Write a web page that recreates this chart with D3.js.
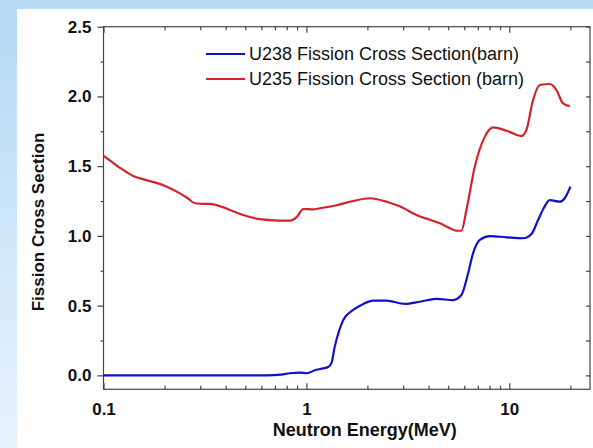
<!DOCTYPE html>
<html>
<head>
<meta charset="utf-8">
<script src="https://cdn.jsdelivr.net/npm/d3@7"></script>
<style>
  html, body { margin: 0; padding: 0; background: #fff; }
  svg { display: block; }
  text { font-family: "Liberation Sans", Arial, sans-serif; fill: #111; }
</style>
</head>
<body>
<svg id="chart" width="593" height="448"></svg>
<script>
// Neutron energy (MeV) and fission cross sections (barn)
const u238Energy = [0.1, 0.3, 0.637, 0.75, 0.829, 0.929, 1.0, 1.12, 1.21, 1.28, 1.33, 1.38, 1.45, 1.52, 1.7, 1.9, 2.13, 2.48, 3.06, 3.62, 4.38, 5.29, 5.81, 6.27, 6.63, 7.16, 8.02, 9.69, 11.7, 12.87, 13.87, 14.8, 15.83, 17.74, 18.77, 20.02];
const u238Sigma  = [0.0, 0.0, 0.0, 0.005, 0.015, 0.02, 0.015, 0.04, 0.05, 0.06, 0.09, 0.206, 0.32, 0.397, 0.469, 0.51, 0.536, 0.536, 0.512, 0.528, 0.548, 0.54, 0.576, 0.732, 0.875, 0.971, 0.999, 0.99, 0.983, 1.014, 1.114, 1.2, 1.257, 1.245, 1.27, 1.353];

const u235Energy = [0.1, 0.11, 0.12, 0.14, 0.163, 0.2, 0.238, 0.26, 0.282, 0.31, 0.335, 0.38, 0.42, 0.488, 0.59, 0.74, 0.83, 0.9, 0.964, 1.08, 1.165, 1.41, 1.7, 2.055, 2.484, 2.9, 3.49, 4.55, 5.2, 5.49, 5.81, 6.15, 6.76, 7.57, 8.32, 9.69, 11.48, 12.15, 13.1, 14.13, 15.83, 17.08, 18.41, 19.86];
const u235Sigma  = [1.575, 1.53, 1.49, 1.43, 1.40, 1.36, 1.305, 1.27, 1.234, 1.23, 1.229, 1.21, 1.186, 1.15, 1.12, 1.11, 1.109, 1.138, 1.193, 1.19, 1.198, 1.22, 1.25, 1.27, 1.245, 1.21, 1.15, 1.09, 1.05, 1.037, 1.037, 1.186, 1.496, 1.71, 1.778, 1.754, 1.716, 1.76, 1.974, 2.082, 2.089, 2.046, 1.95, 1.931];

const seriesNames  = ["U238 Fission Cross Section(barn)", "U235 Fission Cross Section (barn)"];
const seriesColors = ["#1010c8", "#d3222a"];

const xMajorTicks = [0.1, 1, 10];
const xTickLabels = ["0.1", "1", "10"];
const yMajorTicks = [0.0, 0.5, 1.0, 1.5, 2.0, 2.5];
const yTickLabels = ["0.0", "0.5", "1.0", "1.5", "2.0", "2.5"];
const yMinorTicks = [0.25, 0.75, 1.25, 1.75, 2.25];
const xMinorTicks = [0.2, 0.3, 0.4, 0.5, 0.6, 0.7, 0.8, 0.9, 2, 3, 4, 5, 6, 7, 8, 9, 20];

const xTitle = "Neutron Energy(MeV)";
const yTitle = "Fission Cross Section";

const W = 593, H = 448;
const plot = { left: 103.5, right: 590, top: 26.7, bottom: 389.3 };

const svg = d3.select("#chart");

// Backdrop: pale blue band on top, vertical gradient strip on the left, white panel
const defs = svg.append("defs");
const grad = defs.append("linearGradient").attr("id", "sideGrad")
  .attr("x1", 0).attr("y1", 0).attr("x2", 0).attr("y2", 1);
grad.append("stop").attr("offset", "0%").attr("stop-color", "#b3d9f5");
grad.append("stop").attr("offset", "100%").attr("stop-color", "#e8f3fc");

svg.append("rect").attr("x", 0).attr("y", 0).attr("width", W).attr("height", H).attr("fill", "url(#sideGrad)");
svg.append("rect").attr("x", 0).attr("y", 0).attr("width", W).attr("height", 9).attr("fill", "#b8dcf6");
svg.append("rect").attr("x", 17).attr("y", 9).attr("width", W - 17).attr("height", H - 9).attr("fill", "#ffffff");

const x = d3.scaleLog().domain([0.1, 25]).range([plot.left, plot.right]);
const y = d3.scaleLinear().domain([-0.1, 2.5]).range([plot.bottom, plot.top]);

const axisColor = "#444";

// Frame
svg.append("rect")
  .attr("x", plot.left).attr("y", plot.top)
  .attr("width", plot.right - plot.left).attr("height", plot.bottom - plot.top)
  .attr("fill", "none").attr("stroke", axisColor).attr("stroke-width", 1.2);

function styleAxis(g) {
  g.select(".domain").remove();
  g.selectAll(".tick line").attr("stroke", axisColor).attr("stroke-width", 1.2);
}

// Left axis: outward ticks with labels
svg.append("g").attr("transform", `translate(${plot.left},0)`)
  .call(d3.axisLeft(y).tickValues(yMajorTicks).tickSize(6).tickPadding(6)
    .tickFormat((d, i) => yTickLabels[i]))
  .call(styleAxis)
  .call(g => g.selectAll("text")
    .style("font-family", '"Liberation Sans", Arial, sans-serif')
    .style("font-size", "17px").style("font-weight", "bold").attr("fill", "#111"));
svg.append("g").attr("transform", `translate(${plot.left},0)`)
  .call(d3.axisLeft(y).tickValues(yMinorTicks).tickSize(3).tickFormat(""))
  .call(styleAxis);

// Right axis: inward ticks
svg.append("g").attr("transform", `translate(${plot.right},0)`)
  .call(d3.axisRight(y).tickValues(yMajorTicks.concat(yMinorTicks)).tickSize(-4).tickFormat(""))
  .call(styleAxis);

// Bottom axis: inward ticks, labels below
svg.append("g").attr("transform", `translate(0,${plot.bottom})`)
  .call(d3.axisBottom(x).tickValues(xMajorTicks).tickSizeInner(-6).tickSizeOuter(0).tickPadding(14)
    .tickFormat((d, i) => xTickLabels[i]))
  .call(styleAxis)
  .call(g => g.selectAll("text")
    .style("font-family", '"Liberation Sans", Arial, sans-serif')
    .style("font-size", "17px").style("font-weight", "bold").attr("fill", "#111"));
svg.append("g").attr("transform", `translate(0,${plot.bottom})`)
  .call(d3.axisBottom(x).tickValues(xMinorTicks).tickSize(-3.5).tickFormat(""))
  .call(styleAxis);

// Top axis: inward ticks
svg.append("g").attr("transform", `translate(0,${plot.top})`)
  .call(d3.axisTop(x).tickValues(xMajorTicks).tickSize(-6).tickFormat(""))
  .call(styleAxis);
svg.append("g").attr("transform", `translate(0,${plot.top})`)
  .call(d3.axisTop(x).tickValues(xMinorTicks).tickSize(-3.5).tickFormat(""))
  .call(styleAxis);

// Axis titles
svg.append("text")
  .attr("x", (plot.left + plot.right) / 2 + 18).attr("y", 436)
  .attr("text-anchor", "middle")
  .style("font-size", "18px").style("font-weight", "bold")
  .text(xTitle);
svg.append("text")
  .attr("transform", `translate(44,${(plot.top + plot.bottom) / 2 + 14}) rotate(-90)`)
  .attr("text-anchor", "middle")
  .style("font-size", "17px").style("font-weight", "bold")
  .text(yTitle);

// Curves
const line = d3.line()
  .x(d => x(d[0]))
  .y(d => y(d[1]))
  .curve(d3.curveMonotoneX);

const series = [
  d3.zip(u238Energy, u238Sigma),
  d3.zip(u235Energy, u235Sigma)
];

svg.append("g").selectAll("path")
  .data(series)
  .join("path")
  .attr("d", line)
  .attr("fill", "none")
  .attr("stroke", (d, i) => seriesColors[i])
  .attr("stroke-width", 2.2)
  .attr("stroke-linejoin", "round");

// Legend
const legend = svg.append("g").attr("transform", "translate(206,54)");
const rows = legend.selectAll("g").data(seriesNames).join("g")
  .attr("transform", (d, i) => `translate(0,${i * 25})`);
rows.append("line")
  .attr("x1", 0).attr("x2", 39).attr("y1", 0).attr("y2", 0)
  .attr("stroke", (d, i) => seriesColors[i]).attr("stroke-width", 2.2);
rows.append("text")
  .attr("x", 43).attr("y", 0).attr("dy", "0.35em")
  .style("font-size", "18px")
  .text(d => d);
</script>
</body>
</html>
